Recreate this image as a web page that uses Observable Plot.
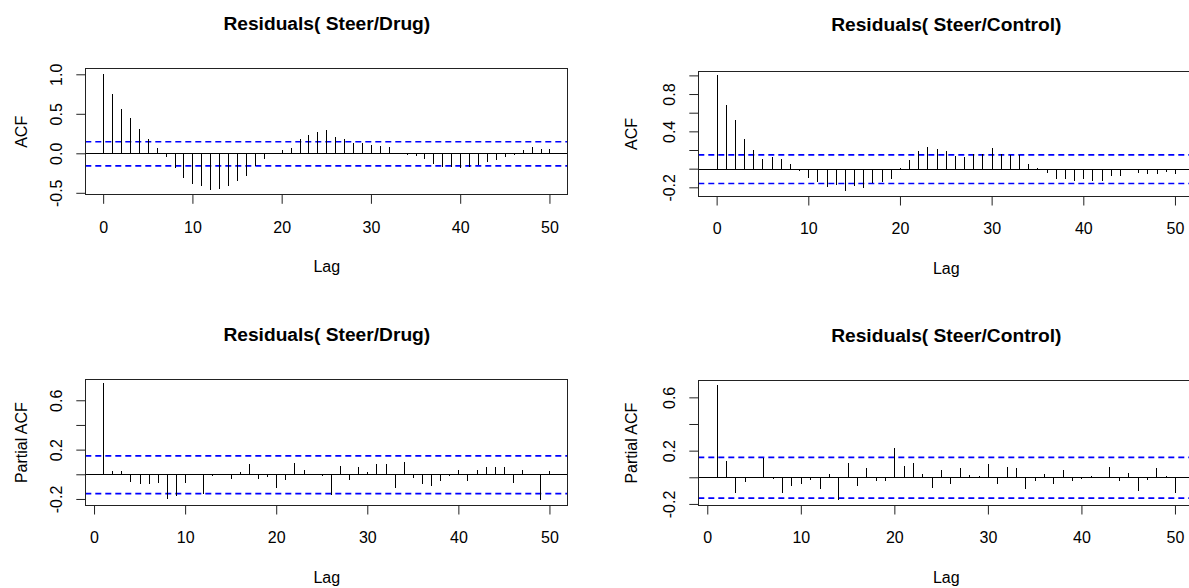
<!DOCTYPE html>
<html><head><meta charset="utf-8">
<script src="https://cdn.jsdelivr.net/npm/d3@7"></script>
<script src="https://cdn.jsdelivr.net/npm/@observablehq/plot@0.6"></script>
<style>
html,body{margin:0;padding:0;background:#fff;}
#chart{position:relative;width:1189px;height:588px;overflow:hidden;background:#fff;}
#chart svg{position:absolute;}
</style></head><body><div id="chart"></div>
<script>
// ---- data ----
const acfLags = [0,1,2,3,4,5,6,7,8,9,10,11,12,13,14,15,16,17,18,19,20,21,22,23,24,25,26,27,28,29,30,31,32,33,34,35,36,37,38,39,40,41,42,43,44,45,46,47,48,49,50];
const pacfLags = [1,2,3,4,5,6,7,8,9,10,11,12,13,14,15,16,17,18,19,20,21,22,23,24,25,26,27,28,29,30,31,32,33,34,35,36,37,38,39,40,41,42,43,44,45,46,47,48,49,50];
const acfDrug = [1.0,0.755,0.565,0.447,0.312,0.186,0.072,-0.046,-0.18,-0.31,-0.39,-0.41,-0.46,-0.45,-0.41,-0.35,-0.29,-0.165,-0.07,-0.005,0.04,0.07,0.18,0.23,0.27,0.29,0.21,0.18,0.135,0.127,0.10,0.09,0.085,0.005,-0.02,-0.035,-0.075,-0.135,-0.177,-0.173,-0.18,-0.17,-0.143,-0.11,-0.09,-0.046,-0.02,0.046,0.085,0.06,0.06];
const acfControl = [1.0,0.68,0.52,0.32,0.196,0.10,0.13,0.10,0.05,-0.025,-0.096,-0.14,-0.196,-0.18,-0.243,-0.186,-0.207,-0.154,-0.14,-0.107,0.005,0.093,0.186,0.23,0.207,0.186,0.14,0.125,0.16,0.16,0.218,0.16,0.143,0.143,0.046,0.003,-0.05,-0.114,-0.114,-0.13,-0.114,-0.13,-0.13,-0.075,-0.075,-0.015,-0.05,-0.06,-0.06,-0.04,-0.06];
const pacfDrug = [0.737,0.027,0.027,-0.066,-0.082,-0.082,-0.071,-0.197,-0.178,-0.074,0.003,-0.156,-0.01,0.003,-0.038,0.02,0.08,-0.038,-0.02,-0.115,-0.05,0.088,0.036,0.005,-0.014,-0.17,0.071,-0.05,0.063,0.016,0.08,0.08,-0.115,0.099,-0.033,-0.082,-0.093,-0.055,-0.014,0.036,-0.055,0.036,0.055,0.063,0.063,-0.074,0.036,0.003,-0.21,0.027];
const pacfControl = [0.69,0.125,-0.12,-0.035,0.003,0.145,-0.01,-0.12,-0.065,-0.048,-0.02,-0.088,0.028,-0.17,0.108,-0.065,0.068,-0.025,-0.028,0.218,0.083,0.108,0.028,-0.083,0.053,-0.048,0.068,0.018,0.01,0.098,-0.048,0.075,0.068,-0.088,-0.025,0.028,-0.048,0.053,-0.025,-0.015,0.01,0.003,0.075,-0.025,0.035,-0.105,-0.02,0.068,0.01,-0.12];
const confLimits = [0.153, -0.153];
const xTicks = [0,10,20,30,40,50];
const xTickLabels = ["0","10","20","30","40","50"];
const acfDrugTicks = [-0.5,0,0.5,1.0];
const acfDrugTickLabels = ["-0.5","0.0","0.5","1.0"];
const acfControlTicks = [-0.2,0,0.2,0.4,0.6,0.8,1.0];
const acfControlTickLabels = ["-0.2","","","0.4","","0.8",""];
const pacfTicks = [-0.2,0,0.2,0.4,0.6];
const pacfTickLabels = ["-0.2","","0.2","","0.6"];
const titles = ["Residuals( Steer/Drug)","Residuals( Steer/Control)"];
const yLabels = ["ACF","Partial ACF"];
const xLabel = "Lag";

const FONT = "'Liberation Sans', Arial, Helvetica, sans-serif";

function panel(o) {
  const rows = o.lags.map((lag, i) => ({lag, v: o.values[i]}));
  const svg = Plot.plot({
    width: o.width, height: o.height,
    marginLeft: o.mL, marginRight: o.mR, marginTop: o.mT, marginBottom: o.mB,
    x: {domain: o.xDomain},
    y: {domain: o.yDomain},
    style: {fontFamily: FONT, fontSize: "16px", color: "black", background: "transparent", overflow: "visible"},
    marks: [
      Plot.ruleY(confLimits, {stroke: "#0000ff", strokeWidth: 1.6, strokeDasharray: "6,4"}),
      Plot.ruleY([0], {stroke: "black", shapeRendering: "crispEdges"}),
      Plot.ruleX(rows, {x: "lag", y1: 0, y2: "v", stroke: "black", shapeRendering: "crispEdges"}),
      Plot.frame({stroke: "#222", shapeRendering: "crispEdges"}),
      Plot.axisX({ticks: xTicks, tickFormat: d => xTickLabels[xTicks.indexOf(d)], tickSize: 9.5, tickPadding: 17, label: null, stroke: "#222"}),
      Plot.axisY({ticks: o.yTicks, tickFormat: d => o.yTickLabels[o.yTicks.indexOf(d)], tickSize: 9, tickPadding: 14.5, tickRotate: -90, label: null, stroke: "#222"}),
      Plot.text([o.title], {text: d => d, frameAnchor: "top", dy: o.titleDy, lineAnchor: "bottom", fontWeight: "bold", fontSize: 19.2}),
      Plot.text([xLabel], {text: d => d, frameAnchor: "bottom", dy: 77, lineAnchor: "bottom"}),
      Plot.text([o.ylabel], {text: d => d, frameAnchor: "left", dx: o.ylabDx, rotate: -90, lineAnchor: "bottom", textAnchor: "middle"})
    ]
  });
  svg.style.left = o.left + "px";
  svg.style.top = o.top + "px";
  svg.style.maxWidth = "none";
  document.getElementById("chart").appendChild(svg);
}

panel({lags: acfLags, values: acfDrug, xDomain: [-2, 52], yDomain: [-0.519, 1.076],
  yTicks: acfDrugTicks, yTickLabels: acfDrugTickLabels, title: titles[0], ylabel: yLabels[0],
  left: 0, top: 0, width: 595, height: 300, mL: 85.3, mR: 27.7, mT: 68.3, mB: 105.7, titleDy: -39.3, ylabDx: -59.3});
panel({lags: acfLags, values: acfControl, xDomain: [-2, 52], yDomain: [-0.293, 1.047],
  yTicks: acfControlTicks, yTickLabels: acfControlTickLabels, title: titles[1], ylabel: yLabels[0],
  left: 595, top: 0, width: 600, height: 300, mL: 103.3, mR: 1.7, mT: 71, mB: 104, titleDy: -41, ylabDx: -62.3});
panel({lags: pacfLags, values: pacfDrug, xDomain: [-0.96, 51.96], yDomain: [-0.249, 0.77],
  yTicks: pacfTicks, yTickLabels: pacfTickLabels, title: titles[0], ylabel: yLabels[1],
  left: 0, top: 300, width: 595, height: 288, mL: 85.3, mR: 27.7, mT: 79.3, mB: 83, titleDy: -39.3, ylabDx: -59.3});
panel({lags: pacfLags, values: pacfControl, xDomain: [-0.96, 51.96], yDomain: [-0.208, 0.728],
  yTicks: pacfTicks, yTickLabels: pacfTickLabels, title: titles[1], ylabel: yLabels[1],
  left: 595, top: 300, width: 600, height: 288, mL: 103.3, mR: 1.7, mT: 80.3, mB: 83, titleDy: -39.3, ylabDx: -61.6});
</script>
</body></html>
